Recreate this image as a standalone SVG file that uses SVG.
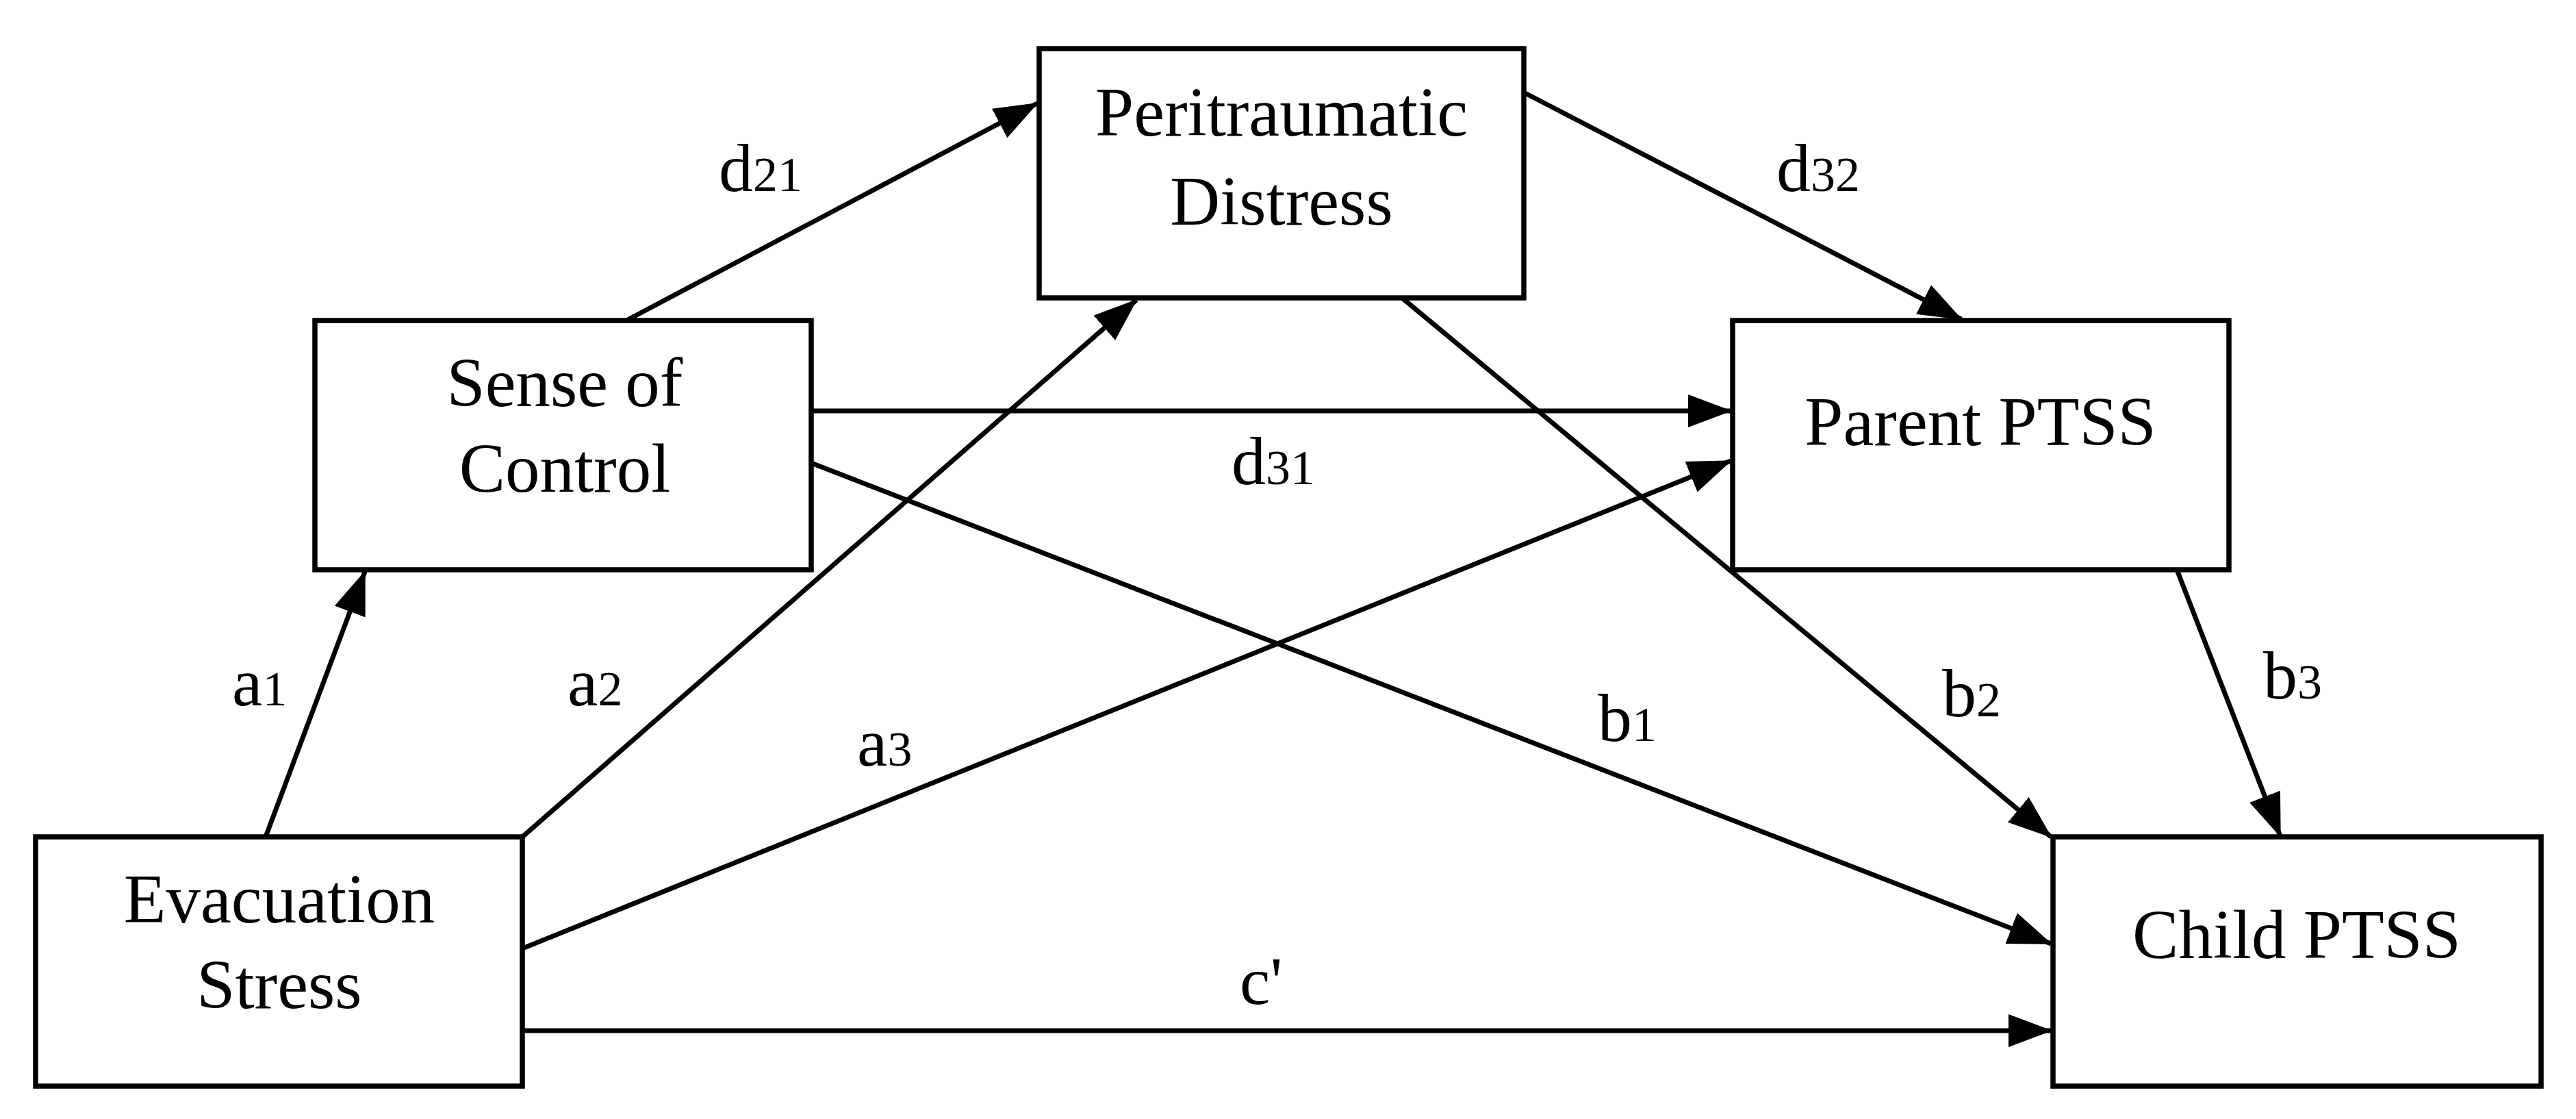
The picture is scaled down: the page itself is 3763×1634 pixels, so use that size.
<svg xmlns="http://www.w3.org/2000/svg" width="3763" height="1634" viewBox="0 0 3763 1634">
<style>
.box{fill:#fff;stroke:#000;stroke-width:7.5}
.t{font-family:"Liberation Serif","Times New Roman",serif;font-size:101px;fill:#000;text-anchor:middle}
.l{font-family:"Liberation Serif","Times New Roman",serif;font-size:100px;fill:#000}
.s{font-size:72px}
.c{stroke:#000;stroke-width:7;fill:none;marker-end:url(#ah)}
</style>
<defs>
<marker id="ah" markerUnits="userSpaceOnUse" markerWidth="66" markerHeight="50" refX="62" refY="24" orient="auto">
<path d="M0,0 L64,24 L0,48 Z" fill="#000"/>
</marker>
</defs>
<rect width="3763" height="1634" fill="#fff"/>
<g id="connectors">
<line class="c" x1="388" y1="1222" x2="533" y2="835"/>
<line class="c" x1="915" y1="468" x2="1515" y2="151"/>
<line class="c" x1="763" y1="1222" x2="1660" y2="438"/>
<line class="c" x1="1185" y1="600" x2="2528" y2="600"/>
<line class="c" x1="1185" y1="676" x2="2996" y2="1378"/>
<line class="c" x1="763" y1="1385" x2="2528" y2="673"/>
<line class="c" x1="2226" y1="135" x2="2865" y2="466"/>
<line class="c" x1="2048" y1="435" x2="2996" y2="1222"/>
<line class="c" x1="3180" y1="832" x2="3331" y2="1221"/>
<line class="c" x1="763" y1="1505" x2="2996" y2="1505"/>
</g>
<g id="labels">
<text class="l" x="1050" y="279">d<tspan class="s">21</tspan></text>
<text class="l" x="2595" y="279">d<tspan class="s">32</tspan></text>
<text class="l" x="1799" y="707">d<tspan class="s">31</tspan></text>
<text class="l" x="339" y="1030">a<tspan class="s">1</tspan></text>
<text class="l" x="829" y="1030">a<tspan class="s">2</tspan></text>
<text class="l" x="1252" y="1118">a<tspan class="s">3</tspan></text>
<text class="l" x="1811" y="1466">c'</text>
<text class="l" x="2334" y="1082">b<tspan class="s">1</tspan></text>
<text class="l" x="2837" y="1046">b<tspan class="s">2</tspan></text>
<text class="l" x="3306" y="1020">b<tspan class="s">3</tspan></text>
</g>
<g id="peritraumatic">
<rect class="box" x="1518" y="71" width="708" height="364"/>
<text class="t" x="1872" y="198">Peritraumatic</text>
<text class="t" x="1872" y="328">Distress</text>
</g>
<g id="sense">
<rect class="box" x="460" y="468" width="725" height="364"/>
<text class="t" x="825" y="593">Sense of</text>
<text class="t" x="825" y="718">Control</text>
</g>
<g id="parent">
<rect class="box" x="2531" y="468" width="725" height="364"/>
<text class="t" x="2893" y="650">Parent PTSS</text>
</g>
<g id="evacuation">
<rect class="box" x="52" y="1222" width="711" height="364"/>
<text class="t" x="408" y="1347">Evacuation</text>
<text class="t" x="408" y="1472">Stress</text>
</g>
<g id="child">
<rect class="box" x="2999" y="1222" width="713" height="364"/>
<text class="t" x="3355" y="1399">Child PTSS</text>
</g>
</svg>
